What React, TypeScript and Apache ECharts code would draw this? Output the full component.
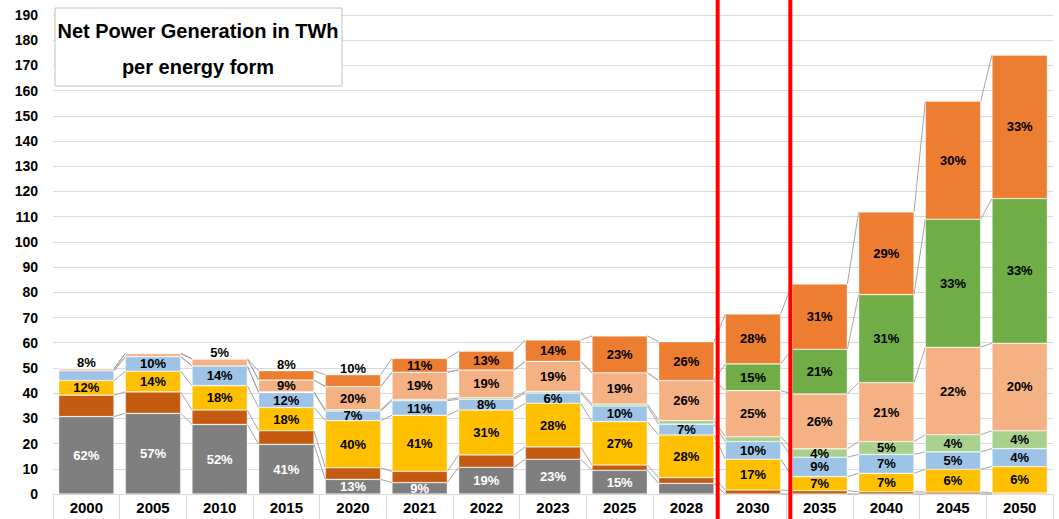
import React, { useEffect, useRef } from "react";
import * as echarts from "echarts";

const categories = ["2000", "2005", "2010", "2015", "2020", "2021", "2022", "2023", "2025", "2028", "2030", "2035", "2040", "2045", "2050"];

const grayValues = [30.7, 32.0, 27.6, 19.7, 5.8, 4.5, 10.6, 13.8, 9.4, 4.2, 0, 0, 0, 0, 0];
const darkOrangeValues = [8.5, 8.5, 5.7, 5.4, 4.6, 4.5, 4.9, 4.9, 2.1, 2.3, 1.6, 1.3, 0.9, 0.8, 0.4];
const yellowValues = [5.8, 8.2, 9.7, 9.2, 18.7, 22.2, 17.8, 17.3, 17.2, 16.9, 12.2, 5.6, 7.3, 9.0, 10.5];
const blueValues = [3.9, 5.8, 7.8, 5.9, 3.8, 5.8, 4.3, 4.0, 6.2, 4.3, 7.0, 7.7, 7.5, 6.9, 7.1];
const lightGreenValues = [0, 0, 0, 0.3, 0.5, 0.5, 0.6, 0.7, 0.8, 1.4, 1.9, 3.3, 5.1, 6.8, 7.1];
const salmonValues = [0.8, 1.3, 2.8, 4.7, 9.2, 10.8, 11.0, 11.9, 12.4, 15.9, 18.3, 21.8, 23.4, 34.7, 34.7];
const greenValues = [0, 0, 0, 0, 0, 0, 0, 0, 0, 0, 10.6, 17.7, 34.9, 50.8, 57.4];
const orangeValues = [0, 0, 0, 3.7, 4.7, 5.5, 7.4, 8.5, 14.6, 15.4, 19.8, 25.9, 32.8, 46.8, 56.9];

const grayLabels = ["62%", "57%", "52%", "41%", "13%", "9%", "19%", "23%", "15%", "", "", "", "", "", ""];
const darkOrangeLabels = ["", "", "", "", "", "", "", "", "", "", "", "", "", "", ""];
const yellowLabels = ["12%", "14%", "18%", "18%", "40%", "41%", "31%", "28%", "27%", "28%", "17%", "7%", "7%", "6%", "6%"];
const blueLabels = ["", "10%", "14%", "12%", "7%", "11%", "8%", "6%", "10%", "7%", "10%", "9%", "7%", "5%", "4%"];
const lightGreenLabels = ["", "", "", "", "", "", "", "", "", "", "", "4%", "5%", "4%", "4%"];
const salmonLabels = ["", "", "", "9%", "20%", "19%", "19%", "19%", "19%", "26%", "25%", "26%", "21%", "22%", "20%"];
const greenLabels = ["", "", "", "", "", "", "", "", "", "", "15%", "21%", "31%", "33%", "33%"];
const orangeLabels = ["", "", "", "", "", "11%", "13%", "14%", "23%", "26%", "28%", "31%", "29%", "30%", "33%"];
const aboveLabels = ["8%", "", "5%", "8%", "10%", "", "", "", "", "", "", "", "", "", ""];

const yTicks = { min: 0, max: 190, interval: 10 };
const titleLines = ["Net Power Generation in TWh", "per energy form"];

const FONT = '"Liberation Sans", Arial, sans-serif';
const BAR_RATIO = 0.83;

const seriesDefs = [
  { name: "Gray", color: "#7f7f7f", values: grayValues, labels: grayLabels, labelColor: "#ffffff" },
  { name: "DarkOrange", color: "#c55a11", values: darkOrangeValues, labels: darkOrangeLabels, labelColor: "#000000" },
  { name: "Yellow", color: "#ffc000", values: yellowValues, labels: yellowLabels, labelColor: "#000000" },
  { name: "Blue", color: "#9dc3e6", values: blueValues, labels: blueLabels, labelColor: "#000000" },
  { name: "LightGreen", color: "#a9d18e", values: lightGreenValues, labels: lightGreenLabels, labelColor: "#000000" },
  { name: "Salmon", color: "#f4b183", values: salmonValues, labels: salmonLabels, labelColor: "#000000" },
  { name: "Green", color: "#70ad47", values: greenValues, labels: greenLabels, labelColor: "#000000" },
  { name: "Orange", color: "#ed7d31", values: orangeValues, labels: orangeLabels, labelColor: "#000000" },
];

export default function App() {
  const ref = useRef<HTMLDivElement>(null);

  useEffect(() => {
    document.body.style.margin = "0";
    if (!ref.current) return;
    const chart = echarts.init(ref.current, null, { renderer: "svg" });

    const cum: number[][] = [];
    seriesDefs.forEach((s, k) => {
      cum.push(categories.map((_, i) => (k > 0 ? cum[k - 1][i] : 0) + s.values[i]));
    });

    const topSeries = categories.map((_, i) => {
      let top = 0;
      seriesDefs.forEach((s, k) => {
        if (s.values[i] > 0) top = k;
      });
      return top;
    });

    const barSeries = seriesDefs.map((s, k) => ({
      name: s.name,
      type: "bar",
      stack: "total",
      barCategoryGap: `${Math.round((1 - BAR_RATIO) * 100)}%`,
      itemStyle: { color: s.color, borderColor: "rgba(255,255,255,0.6)", borderWidth: 0.6 },
      z: 2,
      data: s.values.map((v, i) => {
        const item: any = { value: v };
        if (aboveLabels[i] && topSeries[i] === k) {
          item.label = {
            show: true,
            position: "top",
            distance: 0,
            formatter: aboveLabels[i],
            color: "#000000",
          };
        } else if (s.labels[i]) {
          item.label = { show: true, position: "inside", formatter: s.labels[i], color: s.labelColor };
        } else {
          item.label = { show: false };
        }
        return item;
      }),
      label: {
        fontFamily: FONT,
        fontWeight: "bold",
        fontSize: 13,
      },
    }));

    const connectorSeries = {
      type: "custom",
      silent: true,
      z: 1,
      renderItem: (params: any, api: any) => {
        const i = params.dataIndex;
        if (i >= categories.length - 1) return null;
        const band = api.size([1, 0])[0];
        const half = (band * BAR_RATIO) / 2;
        const children = cum.map((level) => {
          const p1 = api.coord([i, level[i]]);
          const p2 = api.coord([i + 1, level[i + 1]]);
          return {
            type: "line",
            shape: { x1: p1[0] + half, y1: p1[1], x2: p2[0] - half, y2: p2[1] },
            style: { stroke: "#a6a6a6", lineWidth: 1 },
          };
        });
        return { type: "group", children };
      },
      encode: { x: 0, y: 1 },
      data: categories.map((_, i) => [i, 0]),
    };

    chart.setOption({
      animation: false,
      grid: { left: 53, right: 6, top: 15, bottom: 25, containLabel: false },
      xAxis: {
        type: "category",
        data: categories,
        axisLine: { show: true, lineStyle: { color: "#d9d9d9", width: 1 } },
        axisTick: { show: true, interval: 0, alignWithLabel: false, length: 25, lineStyle: { color: "#d9d9d9" } },
        axisLabel: { interval: 0, color: "#000000", fontFamily: FONT, fontWeight: "bold", fontSize: 15, margin: 6 },
      },
      yAxis: {
        type: "value",
        min: yTicks.min,
        max: yTicks.max,
        interval: yTicks.interval,
        axisLine: { show: false },
        axisTick: { show: false },
        splitLine: { lineStyle: { color: "#d9d9d9", width: 1 } },
        axisLabel: { color: "#000000", fontFamily: FONT, fontWeight: "bold", fontSize: 14, margin: 15 },
      },
      series: [...barSeries, connectorSeries],
    });

    const c9 = chart.convertToPixel({ xAxisIndex: 0 }, 9) as number;
    const c10 = chart.convertToPixel({ xAxisIndex: 0 }, 10) as number;
    const band = c10 - c9;
    const redX1 = c9 + band / 2 - 2;
    const redX2 = c10 + band / 2 + 4;

    chart.setOption({
      graphic: [
        {
          type: "rect",
          shape: { x: 55, y: 8, width: 287, height: 78 },
          style: { fill: "#ffffff", stroke: "#bfbfbf", lineWidth: 1 },
          z: 10,
        },
        {
          type: "text",
          x: 198,
          y: 49,
          z: 11,
          style: {
            text: titleLines.join("\n"),
            textAlign: "center",
            textVerticalAlign: "middle",
            fontFamily: FONT,
            fontWeight: "bold",
            fontSize: 20,
            lineHeight: 36,
            fill: "#000000",
          },
        },
        {
          type: "line",
          shape: { x1: redX1, y1: 0, x2: redX1, y2: 519 },
          style: { stroke: "#ff0000", lineWidth: 4 },
          z: 20,
        },
        {
          type: "line",
          shape: { x1: redX2, y1: 0, x2: redX2, y2: 519 },
          style: { stroke: "#ff0000", lineWidth: 4 },
          z: 20,
        },
      ],
    });

    return () => chart.dispose();
  }, []);

  return <div ref={ref} style={{ width: 1059, height: 519 }} />;
}
